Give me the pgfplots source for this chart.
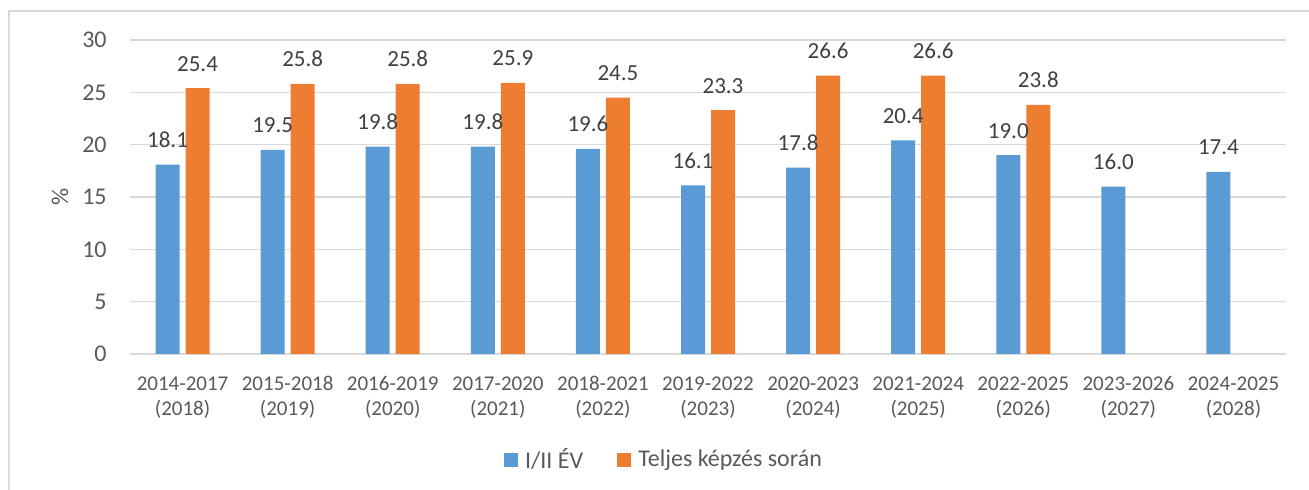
\documentclass[border=0pt]{standalone}
\usepackage{pgfplots}
\pgfplotsset{compat=1.18}
\usepackage{fontspec}
\setmainfont{Carlito}
\definecolor{cblue}{HTML}{5B9BD5}
\definecolor{corange}{HTML}{ED7D31}
\definecolor{gridc}{HTML}{D9D9D9}
\definecolor{tickc}{HTML}{595959}
\definecolor{labc}{HTML}{404040}
\begin{document}
\begin{tikzpicture}
\useasboundingbox (0,0) rectangle (654.5pt,245pt);
\draw[gridc, line width=0.75pt] (4.5pt,0) -- (4.5pt,239.5pt) -- (654.5pt,239.5pt);
\begin{axis}[
  at={(65pt,68pt)}, anchor=south west,
  scale only axis, width=578pt, height=157pt,
  ybar, bar width=12pt,
  xmin=-0.5, xmax=10.5, ymin=0, ymax=30,
  ytick={0,5,...,30},
  xtick={0,...,10},
  xticklabels={{2014-2017\\(2018)},{2015-2018\\(2019)},{2016-2019\\(2020)},{2017-2020\\(2021)},{2018-2021\\(2022)},{2019-2022\\(2023)},{2020-2023\\(2024)},{2021-2024\\(2025)},{2022-2025\\(2026)},{2023-2026\\(2027)},{2024-2025\\(2028)}},
  xticklabel style={align=center, anchor=north, inner sep=0pt, yshift=-11pt, font=\fontsize{10.5}{12.5}\selectfont, text=tickc},
  yticklabel style={anchor=east, inner sep=0pt, xshift=-11.5pt, font=\fontsize{12}{14}\selectfont, text=tickc},
  /pgf/number format/assume math mode=true,
  major tick length=0pt,
  axis line style={draw=none},
  ymajorgrids, major grid style={gridc, line width=0.75pt},
  ylabel={\%},
  ylabel style={at={(axis description cs:-0.0606,0.5)}, anchor=center, font=\fontsize{12}{14}\selectfont, text=tickc},
  clip=false,
  nodes near coords,
  nodes near coords style={/pgf/number format/fixed, /pgf/number format/fixed zerofill, /pgf/number format/precision=1, /pgf/number format/assume math mode=true},
  every node near coord/.append style={anchor=base, yshift=8.5pt, inner sep=0pt, font=\fontsize{11.5}{13}\selectfont, text=labc},
  legend columns=2,
  legend style={at={(axis description cs:0.4628,-0.3376)}, anchor=center, draw=none, fill=none,
    font=\fontsize{12}{14}\selectfont, text=tickc,
    /tikz/every even column/.append style={column sep=15pt},
    /tikz/every odd column/.append style={column sep=1.5pt}},
  legend image code/.code={\fill[#1] (0pt,-3.5pt) rectangle (7pt,3.5pt);},
]
\addplot[fill=cblue, draw=none, bar shift=-7.5pt] coordinates {
(0,18.1) (1,19.5) (2,19.8) (3,19.8) (4,19.6) (5,16.1) (6,17.8) (7,20.4) (8,19.0) (9,16.0) (10,17.4)};
\addlegendentry{I/II ÉV}
\addplot[fill=corange, draw=none, bar shift=7.5pt] coordinates {
(0,25.4) (1,25.8) (2,25.8) (3,25.9) (4,24.5) (5,23.3) (6,26.6) (7,26.6) (8,23.8)};
\addlegendentry{Teljes képzés során}
\end{axis}
\end{tikzpicture}
\end{document}
